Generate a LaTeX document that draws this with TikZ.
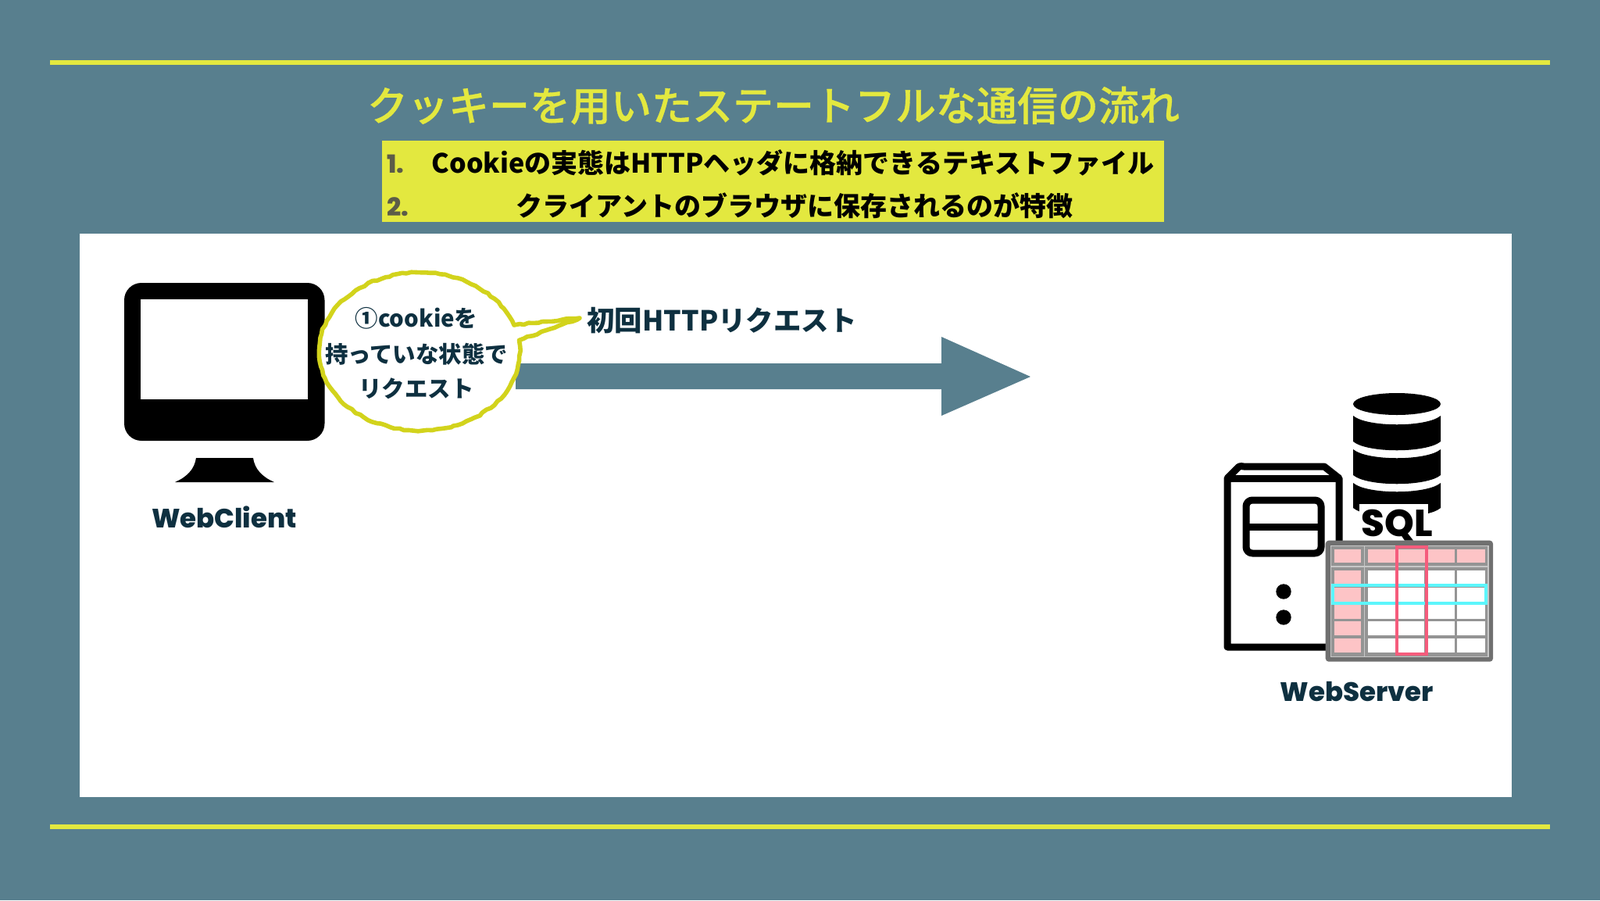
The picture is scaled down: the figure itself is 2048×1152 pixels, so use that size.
\documentclass[tikz,border=0pt]{standalone}
\usepackage{fontspec}
\setmainfont{Noto Sans CJK JP}
\newfontfamily\medfont[FakeBold=0.7]{Noto Sans CJK JP Medium}
\newfontfamily\popfont{Poppins ExtraBold}
\usetikzlibrary{decorations.pathmorphing}
\definecolor{bgc}{HTML}{587F8E}
\definecolor{limec}{HTML}{E3E83F}
\definecolor{inkc}{HTML}{0E3040}
\definecolor{crayonc}{HTML}{D2D31C}
\definecolor{numc}{HTML}{5C5C48}
\definecolor{pinkc}{HTML}{FDC4C6}
\definecolor{cyanc}{HTML}{5CF6FC}
\definecolor{redc}{HTML}{F55C7C}
\tikzset{
  rule/.style={draw=limec,line width=3pt},
  txt/.style={inner sep=0pt,outer sep=0pt,anchor=center},
  label/.style={txt,text=inkc,font=\popfont\fontsize{17}{20}\selectfont},
  bubbletext/.style={txt,text=inkc,font=\bfseries\fontsize{14.7}{17}\selectfont},
  boxtext/.style={txt,text=black,font=\bfseries\fontsize{17}{20}\selectfont},
  numtext/.style={txt,text=numc,font=\popfont\fontsize{16}{20}\selectfont},
  towerline/.style={draw=black,line width=4.5pt,line join=round,fill=white},
  cellw/.style={fill=white},
  cellp/.style={fill=pinkc},
}
\begin{document}
\begin{tikzpicture}[x=.5pt,y=-.5pt]
\useasboundingbox (0,0) rectangle (2048,1152);
\fill[bgc] (0,0) rectangle (2048,1152);
\draw[rule] (64,80) -- (1984,80);
\draw[rule] (64,1058) -- (1984,1058);
\fill[white] (102,299) rectangle (1935,1020);
\node[txt,text=limec,font=\medfont\fontsize{26}{30}\selectfont] (title) at (990,135) {クッキーを用いたステートフルな通信の流れ};
\fill[limec] (489,180) rectangle (1490,284);
\node[numtext] (n1) at (506,210) {1.};
\node[numtext] (n2) at (509,265) {2.};
\node[boxtext] (l1) at (1015,208) {Cookieの実態はHTTPヘッダに格納できるテキストファイル};
\node[boxtext] (l2) at (1017,263) {クライアントのブラウザに保存されるのが特徴};
% monitor
\fill[black,rounded corners=11pt] (159,362) rectangle (415.5,564);
\fill[white] (180,383) rectangle (394,511);
\fill[black] (251,586) -- (324,586) .. controls (326,600) and (335,610) .. (351,617) -- (224,617) .. controls (240,610) and (249,600) .. (251,586) -- cycle;
\node[label] (client) at (287,662) {WebClient};
% arrow
\fill[bgc] (660,465) -- (1205,465) -- (1205,431) -- (1319,482) -- (1205,532) -- (1205,498) -- (660,498) -- cycle;
% bubble
\fill[white] (658,416) arc[start angle=-19.6,delta angle=-348.6,x radius=128.5,y radius=101] -- (742,407) -- cycle;
\draw[crayonc,line width=2.8pt,line join=round,decorate,decoration={random steps,segment length=3pt,amplitude=.5pt}]
  (658,416) arc[start angle=-19.6,delta angle=-348.6,x radius=128.5,y radius=101] -- (742,407) -- cycle;
\node[bubbletext] (b1) at (533,407) {①cookieを};
\node[bubbletext] (b2) at (533,453) {持っていな状態で};
\node[bubbletext] (b3) at (533,497) {リクエスト};
\node[txt,text=inkc,font=\bfseries\fontsize{17.7}{20}\selectfont] (req) at (924,410) {初回HTTPリクエスト};
% database
\fill[black] (1788,517) ellipse[x radius=56,y radius=14];
\fill[black] (1732,532) .. controls (1750,547) and (1826,547) .. (1844,532) -- (1844,565) .. controls (1826,580) and (1750,580) .. (1732,565) -- cycle;
\fill[black] (1732,575) .. controls (1750,590) and (1826,590) .. (1844,575) -- (1844,608) .. controls (1826,623) and (1750,623) .. (1732,608) -- cycle;
\fill[black] (1732,618) .. controls (1750,633) and (1826,633) .. (1844,618) -- (1844,650) .. controls (1826,665) and (1750,665) .. (1732,650) -- cycle;
\fill[white] (1740,645) rectangle (1828,695);
\node[txt,text=black,font=\popfont\fontsize{24}{26}\selectfont] (sql) at (1788,672) {SQL};
% tower
\draw[towerline] (1571,828) -- (1571,612) -- (1586,597) .. controls (1588,596) and (1590,597) .. (1592,597) -- (1695,597) -- (1714,612) -- (1714,828) -- cycle;
\draw[black,line width=4.5pt] (1571,612) -- (1714,612);
\draw[towerline,rounded corners=4pt] (1595,640) rectangle (1691,708);
\draw[black,line width=4.5pt] (1595,674) -- (1691,674);
\fill[black] (1643,757) circle[radius=9.7];
\fill[black] (1643,790) circle[radius=9.7];
% table
\fill[black!56,rounded corners=2pt] (1696.7,691.7) rectangle (1911,846.7);
\fill[black!42] (1703.3,698.3) rectangle (1905,840.7);
\draw[black!22,line width=.6pt] (1703.3,698.3) rectangle (1905,840.7);
\draw[black!22,line width=.6pt] (1703.3,725) -- (1905,725);
\draw[black!22,line width=.6pt] (1746.3,698.3) -- (1746.3,840.7);
\fill[pinkc] (1708.3,702.7) rectangle (1741.7,720);
\fill[pinkc] (1751,702.7) rectangle (1861.7,720);
\fill[pinkc] (1865,702.7) rectangle (1901,720);
\foreach \ya/\yb in {730/748.3,751.7/770,773.3/791.7,795/813.3,816.7/835}{
  \fill[cellp] (1708.3,\ya) rectangle (1741.7,\yb);
  \fill[cellw] (1751,\ya) rectangle (1786.7,\yb);
  \fill[cellw] (1790,\ya) rectangle (1823.3,\yb);
  \fill[cellw] (1826.7,\ya) rectangle (1861.7,\yb);
  \fill[cellw] (1865,\ya) rectangle (1901,\yb);
}
\draw[cyanc,line width=2pt] (1705.7,749.3) rectangle (1902.3,772.3);
\draw[redc,line width=2pt] (1787.7,700) rectangle (1826,837.3);
\node[label] (server) at (1737,885) {WebServer};
\end{tikzpicture}
\end{document}
